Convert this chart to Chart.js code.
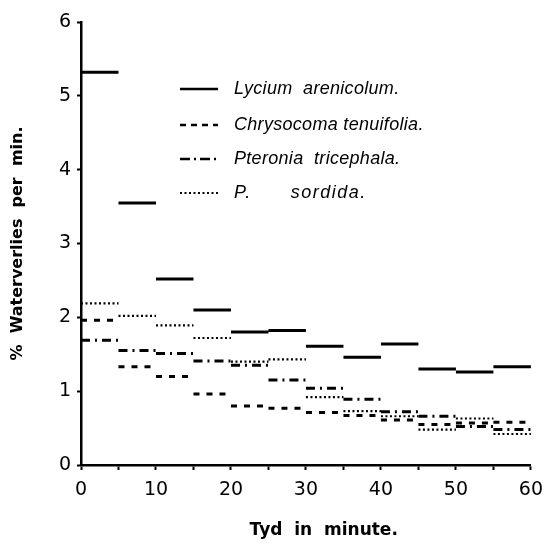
<!DOCTYPE html>
<html>
<head>
<meta charset="utf-8">
<script src="https://cdn.jsdelivr.net/npm/chart.js@4.4.1/dist/chart.umd.min.js"></script>
<style>
  html, body { margin: 0; padding: 0; background: #fff; }
  #wrap { width: 552px; height: 547px; }
</style>
</head>
<body>
<div id="wrap"><canvas id="waterChart" width="552" height="547"></canvas></div>
<script>
// === DATA ===
// start minute of each 5-minute interval
const intervalStart = [0, 5, 10, 15, 20, 25, 30, 35, 40, 45, 50, 55];
const intervalLength = 5;
const speciesNames = ['Lycium  arenicolum.', 'Chrysocoma tenuifolia.', 'Pteronia  tricephala.', 'P.      sordida.'];
const lycium     = [5.32, 3.55, 2.52, 2.10, 1.80, 1.82, 1.61, 1.46, 1.64, 1.30, 1.26, 1.33];
const chrysocoma = [1.96, 1.33, 1.20, 0.96, 0.80, 0.77, 0.71, 0.67, 0.61, 0.55, 0.57, 0.58];
const pteronia   = [1.69, 1.55, 1.51, 1.41, 1.35, 1.15, 1.04, 0.89, 0.72, 0.66, 0.52, 0.48];
const sordida    = [2.19, 2.02, 1.89, 1.72, 1.40, 1.43, 0.92, 0.73, 0.66, 0.48, 0.63, 0.42];
const xTicks = [0, 10, 20, 30, 40, 50, 60];
const yTicks = [0, 1, 2, 3, 4, 5, 6];

// one horizontal segment per interval, null breaks the line
function segments(values) {
  const pts = [];
  values.forEach((v, i) => {
    const x0 = intervalStart[i];
    pts.push({ x: x0, y: v });
    pts.push({ x: x0 + intervalLength, y: v });
    pts.push({ x: x0 + intervalLength, y: null });
  });
  return pts;
}

const dashes = [[], [6, 7], [9, 5, 2, 5], [2, 2.5]];
const seriesValues = [lycium, chrysocoma, pteronia, sordida];

// === LEGEND INSIDE PLOT ===
const sketchLegend = {
  id: 'sketchLegend',
  afterDatasetsDraw(chart) {
    const ctx = chart.ctx;
    const rows = [89, 125, 159, 193];
    ctx.save();
    chart.data.datasets.forEach((ds, i) => {
      const y = rows[i];
      ctx.beginPath();
      ctx.setLineDash(i === 1 ? [6, 5] : i === 2 ? [10, 4, 2, 4] : (ds.borderDash || []));
      ctx.lineWidth = i === 3 ? 1.8 : 2.5;
      ctx.strokeStyle = '#000';
      ctx.moveTo(180, y);
      ctx.lineTo(218, y);
      ctx.stroke();
      ctx.setLineDash([]);
      ctx.fillStyle = '#000';
      ctx.font = 'italic 18px "Liberation Sans"';
      ctx.letterSpacing = i === 3 ? '1.5px' : '0.3px';
      ctx.textBaseline = 'middle';
      ctx.fillText(ds.label, 234, y);
    });
    ctx.restore();
  }
};

const ctx = document.getElementById('waterChart').getContext('2d');
new Chart(ctx, {
  type: 'line',
  data: {
    datasets: seriesValues.map((vals, i) => ({
      label: speciesNames[i],
      data: segments(vals),
      borderColor: '#000',
      borderWidth: i === 3 ? 2.2 : 3,
      borderDash: dashes[i],
      pointRadius: 0,
      tension: 0,
      spanGaps: false,
      fill: false
    }))
  },
  options: {
    responsive: false,
    animation: false,
    layout: { padding: { left: 8, right: 13, top: 22, bottom: 6 } },
    plugins: {
      legend: { display: false },
      tooltip: { enabled: false }
    },
    scales: {
      x: {
        type: 'linear',
        min: 0,
        max: 60,
        afterBuildTicks: scale => {
          scale.ticks = intervalStart.concat([60]).map(v => ({ value: v }));
        },
        ticks: {
          color: '#000',
          padding: 9,
          maxRotation: 0,
          autoSkip: false,
          font: { family: 'DejaVu Sans', size: 19 },
          callback: v => xTicks.includes(v) ? String(v) : ''
        },
        grid: { drawOnChartArea: false, color: '#000', tickLength: 5, tickWidth: 2 },
        border: { display: true, color: '#000', width: 2.5 },
        title: {
          display: true,
          text: '      Tyd  in  minute.',
          color: '#000',
          font: { family: 'DejaVu Sans', size: 17, weight: 'bold' },
          padding: { top: 17, bottom: 0 }
        },
        afterFit: scale => { scale.height = 547 - 465 - 6; }
      },
      y: {
        min: 0,
        max: 6,
        afterBuildTicks: scale => {
          scale.ticks = yTicks.map(v => ({ value: v }));
        },
        ticks: {
          color: '#000',
          padding: 6,
          font: { family: 'DejaVu Sans', size: 19 }
        },
        grid: { drawOnChartArea: false, color: '#000', tickLength: 4, tickWidth: 2 },
        border: { display: true, color: '#000', width: 2.5 },
        title: {
          display: true,
          text: '%  Waterverlies  per  min.',
          color: '#000',
          font: { family: 'DejaVu Sans', size: 16, weight: 'bold' },
          padding: { top: 0, bottom: 2 }
        },
        afterFit: scale => { scale.width = 81 - 8; }
      }
    }
  },
  plugins: [sketchLegend]
});
</script>
</body>
</html>
